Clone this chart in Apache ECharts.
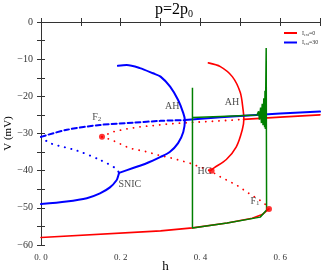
<!DOCTYPE html>
<html>
<head>
<meta charset="utf-8">
<script src="https://cdn.jsdelivr.net/npm/echarts@6/dist/echarts.min.js"></script>
<style>
html,body{margin:0;padding:0;background:#fff;}
#main{width:321px;height:276px;}
</style>
</head>
<body>
<div id="main"></div>
<script>
// blue: I_ext=30
var blueCycle = [[0.193,-11.8],[0.215,-11.6],[0.248,-12.4],[0.281,-13.8],[0.3,-14.7],[0.324,-17.4],[0.344,-21],[0.357,-24.5],[0.361,-26.4],[0.357,-29.6],[0.344,-32.6],[0.323,-35],[0.3,-36.3],[0.265,-38],[0.231,-39.3],[0.196,-40.6]];
var blueLow = [[0.196,-40.6],[0.194,-41.3],[0.19,-42.5],[0.173,-44.5],[0.148,-46.1],[0.115,-47.4],[0.064,-48.3],[0,-49]];
var blueRight = [[0.361,-26.4],[0.45,-25.6],[0.6,-24.6],[0.7,-24.1]];
var blueDash = [[0,-30.9],[0.065,-29],[0.148,-27.7],[0.23,-27.1],[0.3,-26.6],[0.361,-26.4]];
var blueDot = [[0,-30.9],[0.023,-32.6],[0.09,-34.6],[0.148,-37.1],[0.188,-39.4],[0.196,-40.6]];
// red: I_ext=0
var redLow = [[0,-58],[0.3,-56.2],[0.38,-55.4],[0.467,-54.1],[0.53,-52.8],[0.555,-51.8],[0.572,-50.3]];
var redRight = [[0.508,-26.2],[0.6,-25.6],[0.7,-25]];
var redFocus = [[0.153,-30.9],[0.178,-29.6],[0.213,-28.8],[0.248,-28.2],[0.29,-27.8],[0.323,-27.4],[0.38,-27],[0.449,-26.6],[0.508,-26.2]];
var redSaddle = [[0.153,-30.9],[0.177,-31.7],[0.223,-34],[0.265,-34.9],[0.294,-35.8],[0.331,-36.7],[0.374,-38],[0.424,-40],[0.449,-41.6],[0.491,-43.9],[0.524,-46.3],[0.559,-48.6],[0.572,-50.3]];
var redCycle = [[0.42,-11],[0.45,-12],[0.48,-14.7],[0.5,-19],[0.507,-23.6],[0.509,-26],[0.505,-29],[0.49,-33.6],[0.465,-37],[0.435,-39.2],[0.425,-40]];
var redMarks = [[0.153,-30.9],[0.428,-40],[0.572,-50.3]];
// green trajectory
var green = [[0.38,-55.4],[0.38,-17.7],[0.38,-25.7],[0.45,-25.4],[0.542,-25],[0.546,-24],[0.548,-26.3],[0.551,-23],[0.553,-27.2],[0.555,-22],[0.557,-27.8],[0.559,-20.5],[0.561,-28.3],[0.562,-18.5],[0.563,-28.8],[0.564,-17],[0.565,-7],[0.566,-50.6],[0.55,-52.5],[0.467,-54.1],[0.38,-55.4]];
// labels
var annoText = ['AH','AH','HC','SNIC','{t|F}{s|2}','{t|F}{s|1}'];
var annoPos = [[0.329,-22.6],[0.479,-21.5],[0.41,-40.1],[0.223,-43.6],[0.140,-25.6],[0.537,-48.2]];

var serif = 'Liberation Serif';
var BLUE = '#0000ff', RED = '#ff0000', GREEN = '#007f00';

function lineS(name, data, color, width, type, smooth){
  return {
    type:'line', name:name, data:data, showSymbol:false, smooth:smooth||false,
    lineStyle:{color:color, width:width, type:type||'solid', cap:'round'},
    itemStyle:{color:color}, silent:true, animation:false
  };
}

var annoData = [];
for (var i=0;i<annoText.length;i++){
  annoData.push({value:annoPos[i], label:{formatter:annoText[i]}});
}

var myChart = echarts.init(document.getElementById('main'));
var axisCommon = {
  type:'value',
  axisLine:{show:true, lineStyle:{color:'#333', width:1}},
  axisTick:{show:true, inside:true, length:4, lineStyle:{color:'#333'}},
  splitLine:{show:false}
};
option = {
  animation:false,
  title:{
    text:'{a|p=2p}{b|0}', left:155, top:0, padding:0,
    textStyle:{fontWeight:'normal', rich:{
      a:{fontSize:16, fontFamily:serif, fontWeight:'normal', color:'#000'},
      b:{fontSize:10, fontFamily:serif, fontWeight:'normal', color:'#000', padding:[9,0,0,0]}
    }}
  },
  legend:{
    data:['I_ext=0','I_ext=30'], orient:'vertical', left:279, top:25,
    itemWidth:13, itemHeight:2, itemGap:3, icon:'rect',
    formatter:function(n){ return n==='I_ext=0' ? '{a|I}{b|ext}{a|=0}' : '{a|I}{b|ext}{a|=30}'; },
    textStyle:{rich:{
      a:{fontSize:6, fontFamily:serif, color:'#333'},
      b:{fontSize:4, fontFamily:serif, color:'#333', padding:[3,0,0,0]}
    }}
  },
  grid:{left:41, top:22, right:1, bottom:31, containLabel:false, outerBoundsMode:'none'},
  xAxis:[
    Object.assign({}, axisCommon, {
      position:'bottom', min:0, max:0.7, interval:0.1,
      name:'h', nameLocation:'middle', nameGap:15, nameMoveOverlap:false,
      nameTextStyle:{fontFamily:serif, fontSize:13, color:'#000', padding:[0,30,0,0]},
      axisLabel:{margin:8, fontFamily:serif, fontSize:9, color:'#333',
        formatter:function(v){ var k=Math.round(v*10); return (k%2===0 && k<7) ? (k/10).toFixed(1).replace('.', '. ') : ''; }}
    }),
    Object.assign({}, axisCommon, {
      position:'top', min:0, max:0.7, interval:0.1, axisLabel:{show:false}
    })
  ],
  yAxis:[
    Object.assign({}, axisCommon, {
      position:'left', min:-60, max:0, interval:5,
      name:'V (mV)', nameLocation:'middle', nameGap:27, nameMoveOverlap:false,
      nameTextStyle:{fontFamily:serif, fontSize:11, color:'#000'},
      axisLabel:{margin:8, fontFamily:serif, fontSize:10, color:'#333',
        formatter:function(v){ if (v%10!==0) return ''; return v<0 ? '\u2212'+Math.abs(v) : String(v); }}
    }),
    Object.assign({}, axisCommon, {
      position:'right', min:-60, max:0, interval:5, axisLabel:{show:false}
    })
  ],
  series:[
    lineS('I_ext=0', redLow, RED, 1.6),
    lineS('red-right', redRight, RED, 1.6),
    lineS('red-cycle', redCycle, RED, 1.6, 'solid', 0.3),
    lineS('red-focus', redFocus, RED, 1.8, [0.1,6.5]),
    lineS('red-saddle', redSaddle, RED, 1.8, [0.1,6.5]),
    lineS('I_ext=30', blueLow, BLUE, 2, 'solid', 0.3),
    lineS('blue-cycle', blueCycle, BLUE, 2, 'solid', 0.3),
    lineS('blue-right', blueRight, BLUE, 2),
    lineS('blue-dash', blueDash, BLUE, 2, [5,3], 0.3),
    lineS('blue-dot', blueDot, BLUE, 2, [0.1,6.5], 0.3),
    lineS('green', green, GREEN, 1.5),
    {
      type:'scatter', name:'marks', data:redMarks, symbol:'circle', symbolSize:6,
      itemStyle:{color:RED}, silent:true, z:5
    },
    {
      type:'scatter', name:'anno', data:annoData, symbolSize:0, silent:true, z:6,
      label:{show:true, position:'inside', fontFamily:serif, fontSize:10, color:'#222',
        rich:{t:{fontSize:10, fontFamily:serif, color:'#222'}, s:{fontSize:7, fontFamily:serif, color:'#222', padding:[5,0,0,0]}}}
    }
  ]
};
myChart.setOption(option);
</script>
</body>
</html>
